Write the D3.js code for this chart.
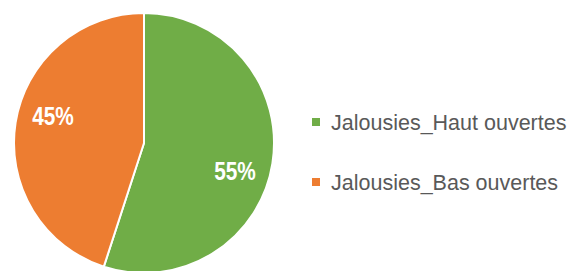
<!DOCTYPE html>
<html>
<head>
<meta charset="utf-8">
<script src="https://cdn.jsdelivr.net/npm/d3@7"></script>
<style>
  html, body { margin: 0; padding: 0; background: #ffffff; }
  svg { display: block; }
</style>
</head>
<body>
<svg id="chart" width="574" height="271"></svg>
<script>
const categories = ["Jalousies_Haut ouvertes", "Jalousies_Bas ouvertes"];
const values = [55, 45];
const labels = ["55%", "45%"];
const colors = ["#70AD47", "#ED7D31"];

const svg = d3.select("#chart");
const cx = 144, cy = 143, r = 130;

const pie = d3.pie().sort(null).value(d => d)(values);
const arc = d3.arc().innerRadius(0).outerRadius(r);
const labelOffset = 0.135;
const labelArc = d3.arc().innerRadius(95).outerRadius(95);

const g = svg.append("g").attr("transform", `translate(${cx},${cy})`);

g.selectAll("path.slice")
  .data(pie)
  .join("path")
  .attr("class", "slice")
  .attr("d", arc)
  .attr("fill", (d, i) => colors[i])
  .attr("stroke", "#ffffff")
  .attr("stroke-width", 2)
  .attr("stroke-linejoin", "round");

g.selectAll("text.lbl")
  .data(pie)
  .join("text")
  .attr("class", "lbl")
  .attr("transform", d => {
    const c = labelArc.centroid({startAngle: d.startAngle + labelOffset, endAngle: d.endAngle + labelOffset});
    return `translate(${c[0]},${c[1]}) scale(0.8,1)`;
  })
  .attr("text-anchor", "middle")
  .attr("dy", "0.36em")
  .attr("fill", "#ffffff")
  .attr("font-family", "'Liberation Sans', Arial, sans-serif")
  .attr("font-weight", "bold")
  .attr("font-size", 26)
  .text((d, i) => labels[i]);

const legend = svg.append("g").attr("transform", "translate(312,0)");
const rowY = d3.scalePoint().domain(categories).range([122, 182]);

const items = legend.selectAll("g.item")
  .data(categories)
  .join("g")
  .attr("class", "item")
  .attr("transform", d => `translate(0,${rowY(d)})`);

items.append("rect")
  .attr("x", 0).attr("y", -4)
  .attr("width", 8).attr("height", 8)
  .attr("fill", (d, i) => colors[i]);

items.append("text")
  .attr("x", 19)
  .attr("y", 0)
  .attr("dy", "0.36em")
  .attr("fill", "#595959")
  .attr("font-family", "'Liberation Sans', Arial, sans-serif")
  .attr("font-size", 21.5)
  .text(d => d);
</script>
</body>
</html>
